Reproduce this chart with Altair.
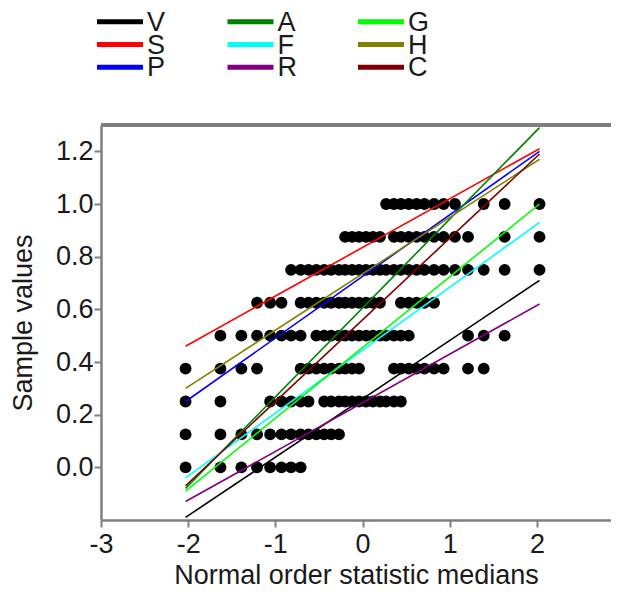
import altair as alt
import pandas as pd

# ---- data ----
series = ["V", "S", "P", "A", "F", "R", "G", "H", "C"]
colors = ["#000000", "#ff0000", "#0000ff", "#008000", "#00ffff",
          "#800080", "#00ff00", "#808000", "#800000"]
legend_col = [0, 0, 0, 1, 1, 1, 2, 2, 2]
legend_row = [0, 1, 2, 0, 1, 2, 0, 1, 2]
line_x = [-2.03, 2.03]
line_y_start = [-0.19, 0.46, 0.25, -0.08, -0.04, -0.13, -0.09, 0.30, -0.07]
line_y_end = [0.71, 1.21, 1.20, 1.29, 0.93, 0.62, 1.00, 1.17, 1.19]

levels = [1.0, 0.875, 0.75, 0.625, 0.5, 0.375, 0.25, 0.125, 0.0]
row_100 = [0.27, 0.36, 0.44, 0.53, 0.62, 0.71, 0.82, 0.93, 1.06, 1.39, 1.63, 2.03]
row_0875 = [-0.20, -0.12, -0.04, 0.04, 0.12, 0.20, 0.36, 0.44, 0.53, 0.62, 0.71,
            0.82, 0.93, 1.06, 1.21, 1.63, 2.03]
row_075 = [-0.82, -0.71, -0.62, -0.53, -0.44, -0.36, -0.27, -0.20, -0.12, -0.04,
           0.04, 0.12, 0.20, 0.27, 0.36, 0.44, 0.53, 0.62, 0.71, 0.82, 0.93, 1.06,
           1.21, 1.39, 1.63, 2.03]
row_0625 = [-1.21, -1.06, -0.93, -0.71, -0.62, -0.53, -0.44, -0.36, -0.27, -0.20,
            -0.12, -0.04, 0.04, 0.12, 0.20, 0.44, 0.53, 0.62, 0.71, 0.82]
row_050 = [-1.63, -1.39, -1.21, -1.06, -0.93, -0.82, -0.71, -0.53, -0.44, -0.36,
           -0.27, -0.20, -0.12, -0.04, 0.04, 0.12, 0.20, 0.27, 0.36, 0.44, 0.53,
           1.21, 1.39, 1.63]
row_0375 = [-2.03, -1.63, -1.39, -1.21, -0.71, -0.62, -0.53, -0.44, -0.36, -0.27,
            -0.20, -0.12, -0.04, 0.36, 0.44, 0.53, 0.62, 0.71, 0.82, 0.93, 1.21, 1.39]
row_025 = [-2.03, -1.63, -1.06, -0.93, -0.82, -0.71, -0.62, -0.44, -0.36, -0.27,
           -0.20, -0.12, -0.04, 0.04, 0.12, 0.20, 0.27, 0.36, 0.44]
row_0125 = [-2.03, -1.63, -1.39, -1.21, -1.06, -0.93, -0.82, -0.71, -0.62, -0.53,
            -0.44, -0.36, -0.27]
row_000 = [-2.03, -1.63, -1.39, -1.21, -1.06, -0.93, -0.82, -0.71]
rows = [row_100, row_0875, row_075, row_0625, row_050, row_0375, row_025, row_0125, row_000]

x_ticks = [-3, -2, -1, 0, 1, 2]
y_ticks = [0.0, 0.2, 0.4, 0.6, 0.8, 1.0, 1.2]

# ---- tables ----
pts = pd.DataFrame(
    [{"x": xv, "y": lv} for lv, r in zip(levels, rows) for xv in r]
)
lines = pd.DataFrame(
    [{"series": s, "color": c, "x": line_x[0], "y": a}
     for s, c, a in zip(series, colors, line_y_start)]
    + [{"series": s, "color": c, "x": line_x[1], "y": b}
       for s, c, b in zip(series, colors, line_y_end)]
)
leg = pd.DataFrame({"series": series, "color": colors, "col": legend_col, "row": legend_row})

FONT = "Liberation Sans"
TXT = "#1a1a1a"
AX = "#7f7f7f"
W, H = 510, 395
xs = alt.Scale(domain=[-3, 2.85], nice=False, zero=False)
ys = alt.Scale(domain=[-0.2, 1.3], nice=False, zero=False)

x_axis = alt.Axis(values=x_ticks, labelExpr="'' + datum.value", title="Normal order statistic medians",
                  grid=False, tickSize=7, tickWidth=2, tickColor=AX, domainColor=AX, domainWidth=2.5,
                  labelFontSize=27, labelFont=FONT, labelColor=TXT, labelPadding=4,
                  titleFontSize=27, titleFont=FONT, titleColor=TXT, titleFontWeight="normal",
                  titlePadding=5, labelFlush=False)
y_axis = alt.Axis(values=y_ticks, format=".1f", title="Sample values",
                  grid=False, tickSize=7, tickWidth=2, tickColor=AX, domainColor=AX, domainWidth=2.5,
                  labelFontSize=27, labelFont=FONT, labelColor=TXT, labelPadding=1,
                  titleFontSize=27, titleFont=FONT, titleColor=TXT, titleFontWeight="normal",
                  titlePadding=18, labelFlush=False)

dots = alt.Chart(pts).mark_circle(size=140, color="black", opacity=1).encode(
    x=alt.X("x:Q", scale=xs, axis=x_axis),
    y=alt.Y("y:Q", scale=ys, axis=y_axis),
)

fits = alt.Chart(lines).mark_line(strokeWidth=1.6, clip=True).encode(
    x=alt.X("x:Q", scale=xs),
    y=alt.Y("y:Q", scale=ys),
    color=alt.Color("color:N", scale=None),
    detail="series:N",
)

top_border = alt.Chart(pts).mark_rule(color=AX, strokeWidth=2.5).encode(
    x=alt.value(0), x2=alt.value(W), y=alt.value(0)
)

plot = alt.layer(dots, fits, top_border)

# ---- legend (3 columns x 3 rows) above the plot, through its own scales ----
SYM = 0.3525  # swatch length in column units
lx = alt.Scale(domain=[0, 1], range=[-4, 126.5], nice=False, zero=False)
ly = alt.Scale(domain=[0, 1], range=[-103.3, -80.5], nice=False, zero=False)
leg_base = alt.Chart(leg).transform_calculate(col_end=f"datum.col + {SYM}")
leg_sw = leg_base.mark_rule(strokeWidth=5, clip=False).encode(
    x=alt.X("col:Q", scale=lx, axis=None),
    x2="col_end:Q",
    y=alt.Y("row:Q", scale=ly, axis=None),
    color=alt.Color("color:N", scale=None),
)
leg_tx = leg_base.mark_text(align="left", baseline="middle", dx=4, dy=1, fontSize=27,
                            font=FONT, color=TXT, clip=False).encode(
    x=alt.X("col_end:Q", scale=lx, axis=None),
    y=alt.Y("row:Q", scale=ly, axis=None),
    text="series:N",
)
legend = alt.layer(leg_sw, leg_tx)

chart = alt.layer(plot, legend).resolve_scale(x="independent", y="independent").properties(
    width=W, height=H,
    autosize=alt.AutoSizeParams(type="none"),
    padding={"left": 93, "top": 117, "right": 0, "bottom": 69},
).configure_view(stroke=None).configure(background="white")

chart.save("out.html", embed_options={"renderer": "svg", "actions": False})
